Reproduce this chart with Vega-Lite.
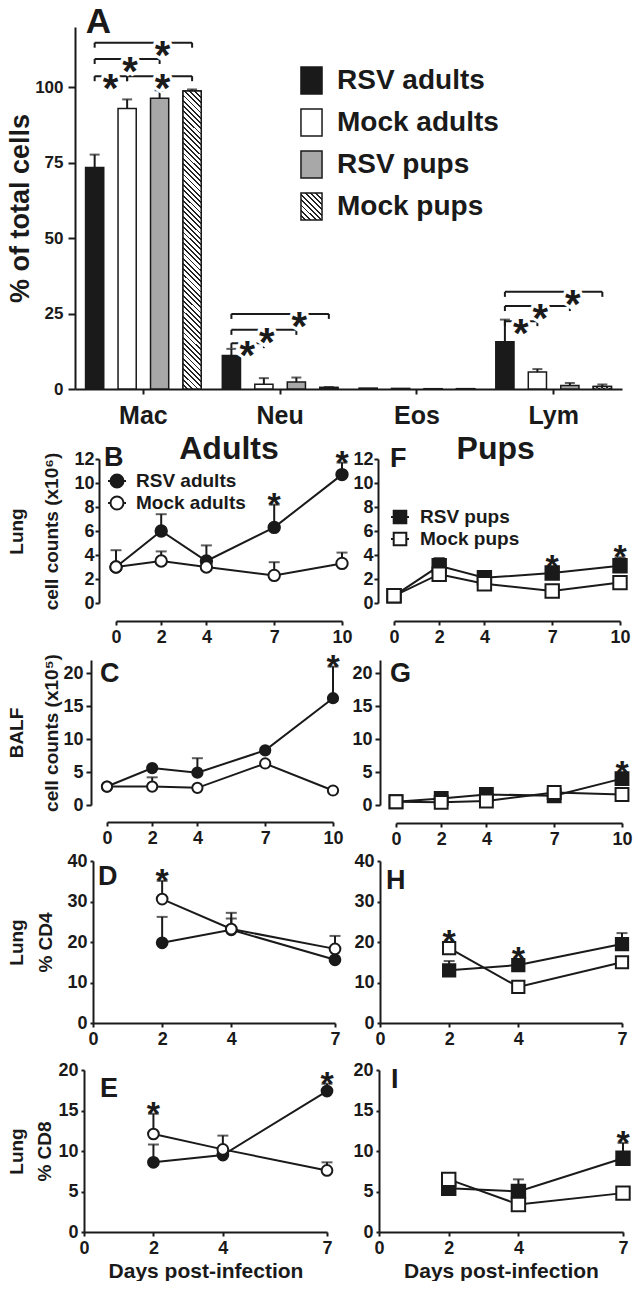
{
"$schema": "https://vega.github.io/schema/vega-lite/v6.json",
"padding": {"left": 6, "top": 5, "right": 0, "bottom": 0},
"background": "white",
"config": {
 "font": "Liberation Sans",
 "view": {"stroke": null},
 "axis": {"domainColor": "#1a1a1a", "domainWidth": 2, "tickColor": "#1a1a1a", "tickWidth": 2, "labelColor": "#1a1a1a", "labelFontWeight": "bold", "labelFont": "Liberation Sans", "titleFont": "Liberation Sans", "titleFontWeight": "bold", "titleColor": "#1a1a1a", "grid": false, "labelFlush": false, "labelOverlap": false, "labelFontSize": 18},
 "legend": {"padding": 0, "labelFont": "Liberation Sans", "labelFontWeight": "bold", "labelColor": "#1a1a1a", "labelLimit": 0},
 "text": {"font": "Liberation Sans", "fontWeight": "bold", "color": "#1a1a1a"}
},
"datasets": {
 "bars": [
  {"cell":"Mac","group":"RSV adults","value":73.4,"err":77.7},
  {"cell":"Mac","group":"Mock adults","value":93.0,"err":96.0},
  {"cell":"Mac","group":"RSV pups","value":96.4,"err":99.0},
  {"cell":"Mac","group":"Mock pups","value":98.8,"err":99.3},
  {"cell":"Neu","group":"RSV adults","value":11.1,"err":13.3},
  {"cell":"Neu","group":"Mock adults","value":1.6,"err":3.6},
  {"cell":"Neu","group":"RSV pups","value":2.3,"err":3.8},
  {"cell":"Neu","group":"Mock pups","value":0.5,"err":0.7},
  {"cell":"Eos","group":"RSV adults","value":0.3},
  {"cell":"Eos","group":"Mock adults","value":0.2},
  {"cell":"Eos","group":"RSV pups","value":0.1},
  {"cell":"Eos","group":"Mock pups","value":0.1},
  {"cell":"Lym","group":"RSV adults","value":15.7,"err":23.0},
  {"cell":"Lym","group":"Mock adults","value":5.6,"err":6.6},
  {"cell":"Lym","group":"RSV pups","value":1.2,"err":2.0},
  {"cell":"Lym","group":"Mock pups","value":0.8,"err":1.5}
 ],
 "brackets": [
  {"cell":"Mac","id":"m1","group":"RSV adults","level":114.8},{"cell":"Mac","id":"m1","group":"Mock pups","level":114.8},
  {"cell":"Mac","id":"m2","group":"RSV adults","level":109.4},{"cell":"Mac","id":"m2","group":"RSV pups","level":109.4},
  {"cell":"Mac","id":"m3","group":"RSV adults","level":103.7},{"cell":"Mac","id":"m3","group":"Mock adults","level":103.7},
  {"cell":"Mac","id":"m4","group":"Mock adults","level":103.7},{"cell":"Mac","id":"m4","group":"Mock pups","level":103.7},
  {"cell":"Neu","id":"n1","group":"RSV adults","level":24.9},{"cell":"Neu","id":"n1","group":"Mock pups","level":24.9},
  {"cell":"Neu","id":"n2","group":"RSV adults","level":19.6},{"cell":"Neu","id":"n2","group":"RSV pups","level":19.6},
  {"cell":"Neu","id":"n3","group":"RSV adults","level":15.2},{"cell":"Neu","id":"n3","group":"Mock adults","level":15.2},
  {"cell":"Lym","id":"l1","group":"RSV adults","level":32.2},{"cell":"Lym","id":"l1","group":"Mock pups","level":32.2},
  {"cell":"Lym","id":"l2","group":"RSV adults","level":27.5},{"cell":"Lym","id":"l2","group":"RSV pups","level":27.5},
  {"cell":"Lym","id":"l3","group":"RSV adults","level":22.5},{"cell":"Lym","id":"l3","group":"Mock adults","level":22.5}
 ],
 "stars": [
  {"cell":"Mac","group":"RSV pups","level":114.8,"kind":"on"},
  {"cell":"Mac","group":"Mock adults","level":109.4,"kind":"on"},
  {"cell":"Mac","group":"RSV adults","level":103.7,"kind":"mid"},
  {"cell":"Mac","group":"RSV pups","level":103.7,"kind":"on"},
  {"cell":"Neu","group":"RSV pups","level":24.9,"kind":"on"},
  {"cell":"Neu","group":"Mock adults","level":19.6,"kind":"on"},
  {"cell":"Neu","group":"RSV adults","level":15.2,"kind":"mid"},
  {"cell":"Lym","group":"RSV pups","level":32.2,"kind":"on"},
  {"cell":"Lym","group":"Mock adults","level":27.5,"kind":"on"},
  {"cell":"Lym","group":"RSV adults","level":22.5,"kind":"mid"}
 ],
 "series": [
  {"panel":"B","group":"RSV adults","day":0,"value":3.0,"err":4.4},
  {"panel":"B","group":"RSV adults","day":2,"value":6.0,"err":7.4},
  {"panel":"B","group":"RSV adults","day":4,"value":3.5,"err":4.8},
  {"panel":"B","group":"RSV adults","day":7,"value":6.3,"err":8.2,"sig":true},
  {"panel":"B","group":"RSV adults","day":10,"value":10.7,"err":11.7,"sig":true},
  {"panel":"B","group":"Mock adults","day":0,"value":3.0},
  {"panel":"B","group":"Mock adults","day":2,"value":3.5,"err":4.3},
  {"panel":"B","group":"Mock adults","day":4,"value":3.0},
  {"panel":"B","group":"Mock adults","day":7,"value":2.3,"err":3.4},
  {"panel":"B","group":"Mock adults","day":10,"value":3.3,"err":4.2},
  {"panel":"F","group":"RSV pups","day":0,"value":0.6},
  {"panel":"F","group":"RSV pups","day":2,"value":3.1,"err":3.75},
  {"panel":"F","group":"RSV pups","day":4,"value":2.1,"err":2.6},
  {"panel":"F","group":"RSV pups","day":7,"value":2.5,"sig":true},
  {"panel":"F","group":"RSV pups","day":10,"value":3.1,"err":3.8,"sig":true},
  {"panel":"F","group":"Mock pups","day":0,"value":0.6},
  {"panel":"F","group":"Mock pups","day":2,"value":2.4},
  {"panel":"F","group":"Mock pups","day":4,"value":1.6},
  {"panel":"F","group":"Mock pups","day":7,"value":1.0},
  {"panel":"F","group":"Mock pups","day":10,"value":1.7},
  {"panel":"C","group":"RSV adults","day":0,"value":2.8},
  {"panel":"C","group":"RSV adults","day":2,"value":5.6},
  {"panel":"C","group":"RSV adults","day":4,"value":4.9,"err":7.1},
  {"panel":"C","group":"RSV adults","day":7,"value":8.3},
  {"panel":"C","group":"RSV adults","day":10,"value":16.2,"err":21.0,"sig":true},
  {"panel":"C","group":"Mock adults","day":0,"value":2.8},
  {"panel":"C","group":"Mock adults","day":2,"value":2.8,"err":4.2},
  {"panel":"C","group":"Mock adults","day":4,"value":2.6},
  {"panel":"C","group":"Mock adults","day":7,"value":6.3},
  {"panel":"C","group":"Mock adults","day":10,"value":2.2},
  {"panel":"G","group":"RSV pups","day":0,"value":0.5},
  {"panel":"G","group":"RSV pups","day":2,"value":1.0},
  {"panel":"G","group":"RSV pups","day":4,"value":1.6},
  {"panel":"G","group":"RSV pups","day":7,"value":1.4},
  {"panel":"G","group":"RSV pups","day":10,"value":4.0,"sig":true},
  {"panel":"G","group":"Mock pups","day":0,"value":0.5},
  {"panel":"G","group":"Mock pups","day":2,"value":0.4},
  {"panel":"G","group":"Mock pups","day":4,"value":0.6},
  {"panel":"G","group":"Mock pups","day":7,"value":1.9},
  {"panel":"G","group":"Mock pups","day":10,"value":1.6},
  {"panel":"D","group":"RSV adults","day":2,"value":19.8,"err":26.2},
  {"panel":"D","group":"RSV adults","day":4,"value":23.0,"err":25.8},
  {"panel":"D","group":"RSV adults","day":7,"value":15.6},
  {"panel":"D","group":"Mock adults","day":2,"value":30.6,"err":35.1,"sig":true},
  {"panel":"D","group":"Mock adults","day":4,"value":23.2,"err":27.2},
  {"panel":"D","group":"Mock adults","day":7,"value":18.3,"err":21.5},
  {"panel":"H","group":"RSV pups","day":2,"value":13.0,"err":15.3},
  {"panel":"H","group":"RSV pups","day":4,"value":14.3,"sig":true},
  {"panel":"H","group":"RSV pups","day":7,"value":19.5,"err":22.2},
  {"panel":"H","group":"Mock pups","day":2,"value":18.5,"sig":true},
  {"panel":"H","group":"Mock pups","day":4,"value":8.9},
  {"panel":"H","group":"Mock pups","day":7,"value":15.0},
  {"panel":"E","group":"RSV adults","day":2,"value":8.6,"err":10.8},
  {"panel":"E","group":"RSV adults","day":4,"value":9.5},
  {"panel":"E","group":"RSV adults","day":7,"value":17.4,"err":18.3,"sig":true},
  {"panel":"E","group":"Mock adults","day":2,"value":12.1,"err":14.6,"sig":true},
  {"panel":"E","group":"Mock adults","day":4,"value":10.2,"err":11.9},
  {"panel":"E","group":"Mock adults","day":7,"value":7.6,"err":8.6},
  {"panel":"I","group":"RSV pups","day":2,"value":5.4},
  {"panel":"I","group":"RSV pups","day":4,"value":5.0,"err":6.5},
  {"panel":"I","group":"RSV pups","day":7,"value":9.1,"err":11.0,"sig":true},
  {"panel":"I","group":"Mock pups","day":2,"value":6.5},
  {"panel":"I","group":"Mock pups","day":4,"value":3.4},
  {"panel":"I","group":"Mock pups","day":7,"value":4.8}
 ]
},
"columns": 1, "align": "none", "spacing": 5,
"resolve": {"scale": {"fill": "independent"}, "legend": {"fill": "independent"}},
"concat": [
 {
  "width": 547, "height": 362,
  "encoding": {
   "x": {"field": "cell", "type": "nominal", "scale": {"domain": ["Mac","Neu","Eos","Lym"], "paddingInner": 0, "paddingOuter": 0}, "axis": {"title": null, "labelFontSize": 25, "labelAngle": 0, "tickSize": 5, "labelPadding": 9, "bandPosition": 0.5}},
   "xOffset": {"field": "group", "type": "nominal", "scale": {"domain": ["RSV adults","Mock adults","RSV pups","Mock pups"], "paddingInner": 0.44, "paddingOuter": 0.325}},
   "y": {"field": "value", "type": "quantitative", "scale": {"domain": [0,120], "nice": false}, "axis": {"values": [0,25,50,75,100], "title": "% of total cells", "titleFontSize": 27, "titlePadding": 0, "labelFontSize": 17, "tickSize": 7, "labelPadding": 5}}
  },
  "layer": [
   {"data": {"name": "bars"}, "mark": {"type": "bar", "stroke": "#1a1a1a", "strokeWidth": 1.5},
    "encoding": {"fill": {"field": "group", "type": "nominal",
     "scale": {"domain": ["RSV adults","Mock adults","RSV pups","Mock pups"], "range": ["#1a1a1a", "#ffffff", "#a8a8a8",
      {"expr": "{gradient: 'linear', x1: 0, y1: 1, x2: 0.862, y2: -0.108, stops: [{offset: 0, color: '#fff'}, {offset: 0.0722, color: '#fff'}, {offset: 0.0722, color: '#222'}, {offset: 0.1111, color: '#222'}, {offset: 0.1111, color: '#fff'}, {offset: 0.1833, color: '#fff'}, {offset: 0.1833, color: '#222'}, {offset: 0.2222, color: '#222'}, {offset: 0.2222, color: '#fff'}, {offset: 0.2944, color: '#fff'}, {offset: 0.2944, color: '#222'}, {offset: 0.3333, color: '#222'}, {offset: 0.3333, color: '#fff'}, {offset: 0.4056, color: '#fff'}, {offset: 0.4056, color: '#222'}, {offset: 0.4444, color: '#222'}, {offset: 0.4444, color: '#fff'}, {offset: 0.5167, color: '#fff'}, {offset: 0.5167, color: '#222'}, {offset: 0.5556, color: '#222'}, {offset: 0.5556, color: '#fff'}, {offset: 0.6278, color: '#fff'}, {offset: 0.6278, color: '#222'}, {offset: 0.6667, color: '#222'}, {offset: 0.6667, color: '#fff'}, {offset: 0.7389, color: '#fff'}, {offset: 0.7389, color: '#222'}, {offset: 0.7778, color: '#222'}, {offset: 0.7778, color: '#fff'}, {offset: 0.85, color: '#fff'}, {offset: 0.85, color: '#222'}, {offset: 0.8889, color: '#222'}, {offset: 0.8889, color: '#fff'}, {offset: 0.9611, color: '#fff'}, {offset: 0.9611, color: '#222'}, {offset: 1, color: '#222'}]}"}]},
     "legend": {"title": null, "orient": "none", "legendX": 222, "legendY": 39, "symbolType": "M-0.78,-1H0.78V1H-0.78Z", "symbolSize": 729, "symbolStrokeColor": "#1a1a1a", "symbolStrokeWidth": 1.5, "labelFontSize": 28, "rowPadding": 9, "labelOffset": 11,
      "encode": {"symbols": {"update": {"stroke": {"value": "#1a1a1a"}, "strokeWidth": {"value": 1.5}}}}}}}},
   {"data": {"name": "bars"}, "transform": [{"filter": "datum.group === 'Mock pups'"}],
    "mark": {"type": "bar", "stroke": "#1a1a1a", "strokeWidth": 1.5,
     "fill": {"gradient": "linear", "x1": 0, "y1": 1, "x2": 0.064, "y2": -0.056, "stops": [
      {"offset":0,"color":"#fff"},{"offset":0.0108,"color":"#fff"},{"offset":0.0108,"color":"#222"},{"offset":0.0167,"color":"#222"},
      {"offset":0.0167,"color":"#fff"},{"offset":0.0275,"color":"#fff"},{"offset":0.0275,"color":"#222"},{"offset":0.0333,"color":"#222"},
      {"offset":0.0333,"color":"#fff"},{"offset":0.0442,"color":"#fff"},{"offset":0.0442,"color":"#222"},{"offset":0.05,"color":"#222"},
      {"offset":0.05,"color":"#fff"},{"offset":0.0608,"color":"#fff"},{"offset":0.0608,"color":"#222"},{"offset":0.0667,"color":"#222"},
      {"offset":0.0667,"color":"#fff"},{"offset":0.0775,"color":"#fff"},{"offset":0.0775,"color":"#222"},{"offset":0.0833,"color":"#222"},
      {"offset":0.0833,"color":"#fff"},{"offset":0.0942,"color":"#fff"},{"offset":0.0942,"color":"#222"},{"offset":0.1,"color":"#222"},
      {"offset":0.1,"color":"#fff"},{"offset":0.1108,"color":"#fff"},{"offset":0.1108,"color":"#222"},{"offset":0.1167,"color":"#222"},
      {"offset":0.1167,"color":"#fff"},{"offset":0.1275,"color":"#fff"},{"offset":0.1275,"color":"#222"},{"offset":0.1333,"color":"#222"},
      {"offset":0.1333,"color":"#fff"},{"offset":0.1442,"color":"#fff"},{"offset":0.1442,"color":"#222"},{"offset":0.15,"color":"#222"},
      {"offset":0.15,"color":"#fff"},{"offset":0.1608,"color":"#fff"},{"offset":0.1608,"color":"#222"},{"offset":0.1667,"color":"#222"},
      {"offset":0.1667,"color":"#fff"},{"offset":0.1775,"color":"#fff"},{"offset":0.1775,"color":"#222"},{"offset":0.1833,"color":"#222"},
      {"offset":0.1833,"color":"#fff"},{"offset":0.1942,"color":"#fff"},{"offset":0.1942,"color":"#222"},{"offset":0.2,"color":"#222"},
      {"offset":0.2,"color":"#fff"},{"offset":0.2108,"color":"#fff"},{"offset":0.2108,"color":"#222"},{"offset":0.2167,"color":"#222"},
      {"offset":0.2167,"color":"#fff"},{"offset":0.2275,"color":"#fff"},{"offset":0.2275,"color":"#222"},{"offset":0.2333,"color":"#222"},
      {"offset":0.2333,"color":"#fff"},{"offset":0.2442,"color":"#fff"},{"offset":0.2442,"color":"#222"},{"offset":0.25,"color":"#222"},
      {"offset":0.25,"color":"#fff"},{"offset":0.2608,"color":"#fff"},{"offset":0.2608,"color":"#222"},{"offset":0.2667,"color":"#222"},
      {"offset":0.2667,"color":"#fff"},{"offset":0.2775,"color":"#fff"},{"offset":0.2775,"color":"#222"},{"offset":0.2833,"color":"#222"},
      {"offset":0.2833,"color":"#fff"},{"offset":0.2942,"color":"#fff"},{"offset":0.2942,"color":"#222"},{"offset":0.3,"color":"#222"},
      {"offset":0.3,"color":"#fff"},{"offset":0.3108,"color":"#fff"},{"offset":0.3108,"color":"#222"},{"offset":0.3167,"color":"#222"},
      {"offset":0.3167,"color":"#fff"},{"offset":0.3275,"color":"#fff"},{"offset":0.3275,"color":"#222"},{"offset":0.3333,"color":"#222"},
      {"offset":0.3333,"color":"#fff"},{"offset":0.3442,"color":"#fff"},{"offset":0.3442,"color":"#222"},{"offset":0.35,"color":"#222"},
      {"offset":0.35,"color":"#fff"},{"offset":0.3608,"color":"#fff"},{"offset":0.3608,"color":"#222"},{"offset":0.3667,"color":"#222"},
      {"offset":0.3667,"color":"#fff"},{"offset":0.3775,"color":"#fff"},{"offset":0.3775,"color":"#222"},{"offset":0.3833,"color":"#222"},
      {"offset":0.3833,"color":"#fff"},{"offset":0.3942,"color":"#fff"},{"offset":0.3942,"color":"#222"},{"offset":0.4,"color":"#222"},
      {"offset":0.4,"color":"#fff"},{"offset":0.4108,"color":"#fff"},{"offset":0.4108,"color":"#222"},{"offset":0.4167,"color":"#222"},
      {"offset":0.4167,"color":"#fff"},{"offset":0.4275,"color":"#fff"},{"offset":0.4275,"color":"#222"},{"offset":0.4333,"color":"#222"},
      {"offset":0.4333,"color":"#fff"},{"offset":0.4442,"color":"#fff"},{"offset":0.4442,"color":"#222"},{"offset":0.45,"color":"#222"},
      {"offset":0.45,"color":"#fff"},{"offset":0.4608,"color":"#fff"},{"offset":0.4608,"color":"#222"},{"offset":0.4667,"color":"#222"},
      {"offset":0.4667,"color":"#fff"},{"offset":0.4775,"color":"#fff"},{"offset":0.4775,"color":"#222"},{"offset":0.4833,"color":"#222"},
      {"offset":0.4833,"color":"#fff"},{"offset":0.4942,"color":"#fff"},{"offset":0.4942,"color":"#222"},{"offset":0.5,"color":"#222"},
      {"offset":0.5,"color":"#fff"},{"offset":0.5108,"color":"#fff"},{"offset":0.5108,"color":"#222"},{"offset":0.5167,"color":"#222"},
      {"offset":0.5167,"color":"#fff"},{"offset":0.5275,"color":"#fff"},{"offset":0.5275,"color":"#222"},{"offset":0.5333,"color":"#222"},
      {"offset":0.5333,"color":"#fff"},{"offset":0.5442,"color":"#fff"},{"offset":0.5442,"color":"#222"},{"offset":0.55,"color":"#222"},
      {"offset":0.55,"color":"#fff"},{"offset":0.5608,"color":"#fff"},{"offset":0.5608,"color":"#222"},{"offset":0.5667,"color":"#222"},
      {"offset":0.5667,"color":"#fff"},{"offset":0.5775,"color":"#fff"},{"offset":0.5775,"color":"#222"},{"offset":0.5833,"color":"#222"},
      {"offset":0.5833,"color":"#fff"},{"offset":0.5942,"color":"#fff"},{"offset":0.5942,"color":"#222"},{"offset":0.6,"color":"#222"},
      {"offset":0.6,"color":"#fff"},{"offset":0.6108,"color":"#fff"},{"offset":0.6108,"color":"#222"},{"offset":0.6167,"color":"#222"},
      {"offset":0.6167,"color":"#fff"},{"offset":0.6275,"color":"#fff"},{"offset":0.6275,"color":"#222"},{"offset":0.6333,"color":"#222"},
      {"offset":0.6333,"color":"#fff"},{"offset":0.6442,"color":"#fff"},{"offset":0.6442,"color":"#222"},{"offset":0.65,"color":"#222"},
      {"offset":0.65,"color":"#fff"},{"offset":0.6608,"color":"#fff"},{"offset":0.6608,"color":"#222"},{"offset":0.6667,"color":"#222"},
      {"offset":0.6667,"color":"#fff"},{"offset":0.6775,"color":"#fff"},{"offset":0.6775,"color":"#222"},{"offset":0.6833,"color":"#222"},
      {"offset":0.6833,"color":"#fff"},{"offset":0.6942,"color":"#fff"},{"offset":0.6942,"color":"#222"},{"offset":0.7,"color":"#222"},
      {"offset":0.7,"color":"#fff"},{"offset":0.7108,"color":"#fff"},{"offset":0.7108,"color":"#222"},{"offset":0.7167,"color":"#222"},
      {"offset":0.7167,"color":"#fff"},{"offset":0.7275,"color":"#fff"},{"offset":0.7275,"color":"#222"},{"offset":0.7333,"color":"#222"},
      {"offset":0.7333,"color":"#fff"},{"offset":0.7442,"color":"#fff"},{"offset":0.7442,"color":"#222"},{"offset":0.75,"color":"#222"},
      {"offset":0.75,"color":"#fff"},{"offset":0.7608,"color":"#fff"},{"offset":0.7608,"color":"#222"},{"offset":0.7667,"color":"#222"},
      {"offset":0.7667,"color":"#fff"},{"offset":0.7775,"color":"#fff"},{"offset":0.7775,"color":"#222"},{"offset":0.7833,"color":"#222"},
      {"offset":0.7833,"color":"#fff"},{"offset":0.7942,"color":"#fff"},{"offset":0.7942,"color":"#222"},{"offset":0.8,"color":"#222"},
      {"offset":0.8,"color":"#fff"},{"offset":0.8108,"color":"#fff"},{"offset":0.8108,"color":"#222"},{"offset":0.8167,"color":"#222"},
      {"offset":0.8167,"color":"#fff"},{"offset":0.8275,"color":"#fff"},{"offset":0.8275,"color":"#222"},{"offset":0.8333,"color":"#222"},
      {"offset":0.8333,"color":"#fff"},{"offset":0.8442,"color":"#fff"},{"offset":0.8442,"color":"#222"},{"offset":0.85,"color":"#222"},
      {"offset":0.85,"color":"#fff"},{"offset":0.8608,"color":"#fff"},{"offset":0.8608,"color":"#222"},{"offset":0.8667,"color":"#222"},
      {"offset":0.8667,"color":"#fff"},{"offset":0.8775,"color":"#fff"},{"offset":0.8775,"color":"#222"},{"offset":0.8833,"color":"#222"},
      {"offset":0.8833,"color":"#fff"},{"offset":0.8942,"color":"#fff"},{"offset":0.8942,"color":"#222"},{"offset":0.9,"color":"#222"},
      {"offset":0.9,"color":"#fff"},{"offset":0.9108,"color":"#fff"},{"offset":0.9108,"color":"#222"},{"offset":0.9167,"color":"#222"},
      {"offset":0.9167,"color":"#fff"},{"offset":0.9275,"color":"#fff"},{"offset":0.9275,"color":"#222"},{"offset":0.9333,"color":"#222"},
      {"offset":0.9333,"color":"#fff"},{"offset":0.9442,"color":"#fff"},{"offset":0.9442,"color":"#222"},{"offset":0.95,"color":"#222"},
      {"offset":0.95,"color":"#fff"},{"offset":0.9608,"color":"#fff"},{"offset":0.9608,"color":"#222"},{"offset":0.9667,"color":"#222"},
      {"offset":0.9667,"color":"#fff"},{"offset":0.9775,"color":"#fff"},{"offset":0.9775,"color":"#222"},{"offset":0.9833,"color":"#222"},
      {"offset":0.9833,"color":"#fff"},{"offset":0.9942,"color":"#fff"},{"offset":0.9942,"color":"#222"},{"offset":1,"color":"#222"}
     ]}}},
   {"data": {"name": "bars"}, "transform": [{"filter": "isValid(datum.err)"}], "mark": {"type": "rule", "strokeWidth": 2, "color": "#1a1a1a"}, "encoding": {"y2": {"field": "err"}}},
   {"data": {"name": "bars"}, "transform": [{"filter": "isValid(datum.err)"}], "mark": {"type": "tick", "orient": "horizontal", "size": 10, "thickness": 2, "color": "#1a1a1a"}, "encoding": {"y": {"field": "err", "type": "quantitative"}}},
   {"data": {"name": "brackets"}, "mark": {"type": "line", "strokeWidth": 2, "color": "#1a1a1a"}, "encoding": {"y": {"field": "level", "type": "quantitative"}, "detail": {"field": "id"}}},
   {"data": {"name": "brackets"}, "mark": {"type": "rule", "strokeWidth": 2, "color": "#1a1a1a", "y2Offset": 5}, "encoding": {"y": {"field": "level", "type": "quantitative"}, "y2": {"field": "level"}}},
   {"data": {"name": "stars"}, "transform": [{"filter": "datum.kind === 'on'"}], "mark": {"type": "text", "text": "*", "fontSize": 40, "baseline": "alphabetic", "dy": 26, "dx": 3, "fill": "white", "stroke": "white", "strokeWidth": 6}, "encoding": {"y": {"field": "level", "type": "quantitative"}}},
   {"data": {"name": "stars"}, "transform": [{"filter": "datum.kind === 'on'"}], "mark": {"type": "text", "text": "*", "fontSize": 40, "baseline": "alphabetic", "dy": 26, "dx": 3}, "encoding": {"y": {"field": "level", "type": "quantitative"}}},
   {"data": {"name": "stars"}, "transform": [{"filter": "datum.kind === 'mid'"}], "mark": {"type": "text", "text": "*", "fontSize": 40, "baseline": "alphabetic", "dy": 26, "dx": 16, "fill": "white", "stroke": "white", "strokeWidth": 6}, "encoding": {"y": {"field": "level", "type": "quantitative"}}},
   {"data": {"name": "stars"}, "transform": [{"filter": "datum.kind === 'mid'"}], "mark": {"type": "text", "text": "*", "fontSize": 40, "baseline": "alphabetic", "dy": 26, "dx": 16}, "encoding": {"y": {"field": "level", "type": "quantitative"}}},
   {"data": {"name": "bars"}, "transform": [{"filter": "datum.cell === 'Mac' && datum.group === 'RSV adults'"}], "mark": {"type": "text", "text": "A", "fontSize": 35, "align": "left", "baseline": "alphabetic", "dx": -9, "dy": 6}, "encoding": {"y": {"datum": 120, "type": "quantitative"}}}
  ]
 },
 {
  "columns": 1, "align": "none", "spacing": 4,
  "resolve": {"scale": {"fill": "independent"}, "legend": {"fill": "independent"}},
  "concat": [
   {
    "hconcat": [
     {
      "width": 267, "height": 144,
      "data": {"name": "series"},
      "transform": [{"filter": "datum.panel === 'B'"}],
      "encoding": {
       "x": {"field": "day", "type": "quantitative", "scale": {"domain": [0,10], "nice": false, "range": [41, 267]}, "axis": {"values": [0,2,4,7,10], "title": null, "offset": 18, "tickSize": 4, "labelPadding": 3}},
       "y": {"field": "value", "type": "quantitative", "scale": {"domain": [0,12], "nice": false}, "axis": {"values": [0,2,4,6,8,10,12], "offset": -24, "tickSize": 4, "labelPadding": 1, "title": ["Lung", "cell counts (x10⁶)"], "titleFontSize": 19, "titleLineHeight": 35, "titlePadding": 12}}
      },
      "layer": [
       {"transform": [{"filter": "isValid(datum.err)"}], "mark": {"type": "rule", "strokeWidth": 2, "color": "#1a1a1a"}, "encoding": {"y2": {"field": "err"}}},
       {"transform": [{"filter": "isValid(datum.err)"}], "mark": {"type": "tick", "orient": "horizontal", "size": 11, "thickness": 2, "color": "#1a1a1a"}, "encoding": {"y": {"field": "err", "type": "quantitative"}}},
       {"mark": {"type": "line", "strokeWidth": 2, "color": "#1a1a1a"}, "encoding": {"detail": {"field": "group"}}},
       {"mark": {"type": "point", "filled": true, "shape": "circle", "size": 130, "stroke": "#1a1a1a", "strokeWidth": 2, "opacity": 1},
        "encoding": {"fill": {"field": "group", "type": "nominal", "scale": {"domain": ["RSV adults","Mock adults"], "range": ["#1a1a1a","#ffffff"]},
         "legend": {"title": null, "orient": "none", "legendX": 32, "legendY": 12, "symbolType": "M-1,0H-0.72M0.72,0H1M0.72,0A0.72,0.72,0,1,1,-0.72,0A0.72,0.72,0,1,1,0.72,0Z", "symbolSize": 324, "symbolStrokeColor": "#1a1a1a", "symbolStrokeWidth": 2, "labelFontSize": 19, "labelOffset": 9, "rowPadding": 0,
          "encode": {"symbols": {"update": {"stroke": {"value": "#1a1a1a"}, "strokeWidth": {"value": 2}}}}}}}},
       {"transform": [{"filter": "datum.sig && isValid(datum.err)"}], "mark": {"type": "text", "text": "*", "fontSize": 34, "baseline": "alphabetic", "dy": 11}, "encoding": {"y": {"field": "err", "type": "quantitative"}}},
       {"transform": [{"filter": "datum.sig && !isValid(datum.err)"}], "mark": {"type": "text", "text": "*", "fontSize": 34, "baseline": "alphabetic", "dy": 5}},
       {"transform": [{"filter": "datum.day === 2 && indexof(datum.group, 'RSV') === 0"}], "mark": {"type": "text", "text": "B", "fontSize": 27, "align": "left", "baseline": "alphabetic", "dx": -12, "dy": 7}, "encoding": {"x": {"datum": 0, "type": "quantitative"}, "y": {"datum": 12, "type": "quantitative"}}},
       {"transform": [{"filter": "datum.day === 2 && indexof(datum.group, 'RSV') === 0"}], "mark": {"type": "text", "text": "Adults", "fontSize": 32, "align": "center", "baseline": "alphabetic"}, "encoding": {"x": {"datum": 5, "type": "quantitative"}, "y": {"datum": 12, "type": "quantitative"}}}
      ]
     },
     {
      "width": 226, "height": 144,
      "data": {"name": "series"},
      "transform": [{"filter": "datum.panel === 'F'"}],
      "encoding": {
       "x": {"field": "day", "type": "quantitative", "scale": {"domain": [0,10], "nice": false}, "axis": {"values": [0,2,4,7,10], "title": null, "offset": 18, "tickSize": 4, "labelPadding": 3}},
       "y": {"field": "value", "type": "quantitative", "scale": {"domain": [0,12], "nice": false}, "axis": {"values": [0,2,4,6,8,10,12], "offset": 16, "tickSize": 4, "labelPadding": 1, "title": null}}
      },
      "layer": [
       {"transform": [{"filter": "isValid(datum.err)"}], "mark": {"type": "rule", "strokeWidth": 2, "color": "#1a1a1a"}, "encoding": {"y2": {"field": "err"}}},
       {"transform": [{"filter": "isValid(datum.err)"}], "mark": {"type": "tick", "orient": "horizontal", "size": 11, "thickness": 2, "color": "#1a1a1a"}, "encoding": {"y": {"field": "err", "type": "quantitative"}}},
       {"mark": {"type": "line", "strokeWidth": 2, "color": "#1a1a1a"}, "encoding": {"detail": {"field": "group"}}},
       {"mark": {"type": "point", "filled": true, "shape": "square", "size": 180, "stroke": "#1a1a1a", "strokeWidth": 2, "opacity": 1},
        "encoding": {"fill": {"field": "group", "type": "nominal", "scale": {"domain": ["RSV pups","Mock pups"], "range": ["#1a1a1a","#ffffff"]},
         "legend": {"title": null, "orient": "none", "legendX": -4, "legendY": 48, "symbolType": "M-1,0H-0.7M0.7,0H1M-0.7,-0.7H0.7V0.7H-0.7Z", "symbolSize": 324, "symbolStrokeColor": "#1a1a1a", "symbolStrokeWidth": 2, "labelFontSize": 19, "labelOffset": 10, "rowPadding": 0,
          "encode": {"symbols": {"update": {"stroke": {"value": "#1a1a1a"}, "strokeWidth": {"value": 2}}}}}}}},
       {"transform": [{"filter": "datum.sig && isValid(datum.err)"}], "mark": {"type": "text", "text": "*", "fontSize": 34, "baseline": "alphabetic", "dy": 11}, "encoding": {"y": {"field": "err", "type": "quantitative"}}},
       {"transform": [{"filter": "datum.sig && !isValid(datum.err)"}], "mark": {"type": "text", "text": "*", "fontSize": 34, "baseline": "alphabetic", "dy": 5}},
       {"transform": [{"filter": "datum.day === 2 && indexof(datum.group, 'RSV') === 0"}], "mark": {"type": "text", "text": "F", "fontSize": 27, "align": "left", "baseline": "alphabetic", "dx": -4, "dy": 8}, "encoding": {"x": {"datum": 0, "type": "quantitative"}, "y": {"datum": 12, "type": "quantitative"}}},
       {"transform": [{"filter": "datum.day === 2 && indexof(datum.group, 'RSV') === 0"}], "mark": {"type": "text", "text": "Pups", "fontSize": 32, "align": "center", "baseline": "alphabetic"}, "encoding": {"x": {"datum": 4.5, "type": "quantitative"}, "y": {"datum": 12, "type": "quantitative"}}}
      ]
     }
    ],
    "spacing": 52, "bounds": "flush",
    "resolve": {"scale": {"fill": "independent"}, "legend": {"fill": "independent"}}
   },
   {
    "columns": 1, "align": "none", "spacing": 4,
    "resolve": {"scale": {"fill": "independent"}, "legend": {"fill": "independent"}},
    "concat": [
     {
      "hconcat": [
       {
        "width": 258, "height": 145,
        "data": {"name": "series"},
        "transform": [{"filter": "datum.panel === 'C'"}],
        "encoding": {
         "x": {"field": "day", "type": "quantitative", "scale": {"domain": [0,10], "nice": false, "range": [32, 258]}, "axis": {"values": [0,2,4,7,10], "title": null, "offset": 17, "tickSize": 4, "labelPadding": 3}},
         "y": {"field": "value", "type": "quantitative", "scale": {"domain": [0,22], "nice": false}, "axis": {"values": [0,5,10,15,20], "offset": -16, "tickSize": 5, "labelPadding": 3, "title": ["BALF", "cell counts (x10⁵)"], "titleFontSize": 19, "titleLineHeight": 35, "titlePadding": 1}}
        },
        "layer": [
         {"transform": [{"filter": "isValid(datum.err)"}], "mark": {"type": "rule", "strokeWidth": 2, "color": "#1a1a1a"}, "encoding": {"y2": {"field": "err"}}},
         {"transform": [{"filter": "isValid(datum.err)"}], "mark": {"type": "tick", "orient": "horizontal", "size": 11, "thickness": 2, "color": "#1a1a1a"}, "encoding": {"y": {"field": "err", "type": "quantitative"}}},
         {"mark": {"type": "line", "strokeWidth": 2, "color": "#1a1a1a"}, "encoding": {"detail": {"field": "group"}}},
         {"mark": {"type": "point", "filled": true, "shape": "circle", "size": 105, "stroke": "#1a1a1a", "strokeWidth": 2, "opacity": 1},
          "encoding": {"fill": {"field": "group", "type": "nominal", "scale": {"domain": ["RSV adults","Mock adults"], "range": ["#1a1a1a","#ffffff"]}, "legend": null}}},
         {"transform": [{"filter": "datum.sig && isValid(datum.err)"}], "mark": {"type": "text", "text": "*", "fontSize": 34, "baseline": "alphabetic", "dy": 11}, "encoding": {"y": {"field": "err", "type": "quantitative"}}},
         {"transform": [{"filter": "datum.sig && !isValid(datum.err)"}], "mark": {"type": "text", "text": "*", "fontSize": 34, "baseline": "alphabetic", "dy": 5}},
         {"transform": [{"filter": "datum.day === 2 && indexof(datum.group, 'RSV') === 0"}], "mark": {"type": "text", "text": "C", "fontSize": 27, "align": "left", "baseline": "alphabetic", "dx": -7, "dy": 22}, "encoding": {"x": {"datum": 0, "type": "quantitative"}, "y": {"datum": 22, "type": "quantitative"}}}
        ]
       },
       {
        "width": 226, "height": 145,
        "data": {"name": "series"},
        "transform": [{"filter": "datum.panel === 'G'"}],
        "encoding": {
         "x": {"field": "day", "type": "quantitative", "scale": {"domain": [0,10], "nice": false}, "axis": {"values": [0,2,4,7,10], "title": null, "offset": 18, "tickSize": 4, "labelPadding": 3}},
         "y": {"field": "value", "type": "quantitative", "scale": {"domain": [0,22], "nice": false}, "axis": {"values": [0,5,10,15,20], "offset": 16, "tickSize": 5, "labelPadding": 3, "title": null}}
        },
        "layer": [
         {"transform": [{"filter": "isValid(datum.err)"}], "mark": {"type": "rule", "strokeWidth": 2, "color": "#1a1a1a"}, "encoding": {"y2": {"field": "err"}}},
         {"transform": [{"filter": "isValid(datum.err)"}], "mark": {"type": "tick", "orient": "horizontal", "size": 11, "thickness": 2, "color": "#1a1a1a"}, "encoding": {"y": {"field": "err", "type": "quantitative"}}},
         {"mark": {"type": "line", "strokeWidth": 2, "color": "#1a1a1a"}, "encoding": {"detail": {"field": "group"}}},
         {"mark": {"type": "point", "filled": true, "shape": "square", "size": 165, "stroke": "#1a1a1a", "strokeWidth": 2, "opacity": 1},
          "encoding": {"fill": {"field": "group", "type": "nominal", "scale": {"domain": ["RSV pups","Mock pups"], "range": ["#1a1a1a","#ffffff"]}, "legend": null}}},
         {"transform": [{"filter": "datum.sig && isValid(datum.err)"}], "mark": {"type": "text", "text": "*", "fontSize": 34, "baseline": "alphabetic", "dy": 11}, "encoding": {"y": {"field": "err", "type": "quantitative"}}},
         {"transform": [{"filter": "datum.sig && !isValid(datum.err)"}], "mark": {"type": "text", "text": "*", "fontSize": 34, "baseline": "alphabetic", "dy": 5}},
         {"transform": [{"filter": "datum.day === 2 && indexof(datum.group, 'RSV') === 0"}], "mark": {"type": "text", "text": "G", "fontSize": 27, "align": "left", "baseline": "alphabetic", "dx": -6, "dy": 22}, "encoding": {"x": {"datum": 0, "type": "quantitative"}, "y": {"datum": 22, "type": "quantitative"}}}
        ]
       }
      ],
      "spacing": 63, "bounds": "flush",
      "resolve": {"scale": {"fill": "independent"}, "legend": {"fill": "independent"}}
     },
     {
      "columns": 1, "align": "none", "spacing": 13,
      "resolve": {"scale": {"fill": "independent"}, "legend": {"fill": "independent"}},
      "concat": [
       {
        "hconcat": [
         {
          "width": 260, "height": 162,
          "data": {"name": "series"},
          "transform": [{"filter": "datum.panel === 'D'"}],
          "encoding": {
           "x": {"field": "day", "type": "quantitative", "scale": {"domain": [0,7], "nice": false, "range": [18, 260]}, "axis": {"values": [0,2,4,7], "title": null, "tickSize": 4, "labelPadding": 3}},
           "y": {"field": "value", "type": "quantitative", "scale": {"domain": [0,40], "nice": false}, "axis": {"values": [0,10,20,30,40], "offset": -18, "tickSize": 3, "labelPadding": 3, "title": ["Lung", "% CD4"], "titleFontSize": 19, "titleLineHeight": 29, "titlePadding": 11}}
          },
          "layer": [
           {"transform": [{"filter": "isValid(datum.err)"}], "mark": {"type": "rule", "strokeWidth": 2, "color": "#1a1a1a"}, "encoding": {"y2": {"field": "err"}}},
           {"transform": [{"filter": "isValid(datum.err)"}], "mark": {"type": "tick", "orient": "horizontal", "size": 11, "thickness": 2, "color": "#1a1a1a"}, "encoding": {"y": {"field": "err", "type": "quantitative"}}},
           {"mark": {"type": "line", "strokeWidth": 2, "color": "#1a1a1a"}, "encoding": {"detail": {"field": "group"}}},
           {"mark": {"type": "point", "filled": true, "shape": "circle", "size": 115, "stroke": "#1a1a1a", "strokeWidth": 2, "opacity": 1},
            "encoding": {"fill": {"field": "group", "type": "nominal", "scale": {"domain": ["RSV adults","Mock adults"], "range": ["#1a1a1a","#ffffff"]}, "legend": null}}},
           {"transform": [{"filter": "datum.sig && isValid(datum.err)"}], "mark": {"type": "text", "text": "*", "fontSize": 34, "baseline": "alphabetic", "dy": 11}, "encoding": {"y": {"field": "err", "type": "quantitative"}}},
           {"transform": [{"filter": "datum.sig && !isValid(datum.err)"}], "mark": {"type": "text", "text": "*", "fontSize": 34, "baseline": "alphabetic", "dy": 5}},
           {"transform": [{"filter": "datum.day === 2 && indexof(datum.group, 'RSV') === 0"}], "mark": {"type": "text", "text": "D", "fontSize": 27, "align": "left", "baseline": "alphabetic", "dx": 5, "dy": 24}, "encoding": {"x": {"datum": 0, "type": "quantitative"}, "y": {"datum": 40, "type": "quantitative"}}}
          ]
         },
         {
          "width": 242, "height": 162,
          "data": {"name": "series"},
          "transform": [{"filter": "datum.panel === 'H'"}],
          "encoding": {
           "x": {"field": "day", "type": "quantitative", "scale": {"domain": [0,7], "nice": false}, "axis": {"values": [0,2,4,7], "title": null, "tickSize": 4, "labelPadding": 3}},
           "y": {"field": "value", "type": "quantitative", "scale": {"domain": [0,40], "nice": false}, "axis": {"values": [0,10,20,30,40], "tickSize": 3, "labelPadding": 3, "title": null}}
          },
          "layer": [
           {"transform": [{"filter": "isValid(datum.err)"}], "mark": {"type": "rule", "strokeWidth": 2, "color": "#1a1a1a"}, "encoding": {"y2": {"field": "err"}}},
           {"transform": [{"filter": "isValid(datum.err)"}], "mark": {"type": "tick", "orient": "horizontal", "size": 11, "thickness": 2, "color": "#1a1a1a"}, "encoding": {"y": {"field": "err", "type": "quantitative"}}},
           {"mark": {"type": "line", "strokeWidth": 2, "color": "#1a1a1a"}, "encoding": {"detail": {"field": "group"}}},
           {"mark": {"type": "point", "filled": true, "shape": "square", "size": 150, "stroke": "#1a1a1a", "strokeWidth": 2, "opacity": 1},
            "encoding": {"fill": {"field": "group", "type": "nominal", "scale": {"domain": ["RSV pups","Mock pups"], "range": ["#1a1a1a","#ffffff"]}, "legend": null}}},
           {"transform": [{"filter": "datum.sig && isValid(datum.err)"}], "mark": {"type": "text", "text": "*", "fontSize": 34, "baseline": "alphabetic", "dy": 11}, "encoding": {"y": {"field": "err", "type": "quantitative"}}},
           {"transform": [{"filter": "datum.sig && !isValid(datum.err)"}], "mark": {"type": "text", "text": "*", "fontSize": 34, "baseline": "alphabetic", "dy": 5}},
           {"transform": [{"filter": "datum.day === 2 && indexof(datum.group, 'RSV') === 0"}], "mark": {"type": "text", "text": "H", "fontSize": 27, "align": "left", "baseline": "alphabetic", "dx": 6, "dy": 28}, "encoding": {"x": {"datum": 0, "type": "quantitative"}, "y": {"datum": 40, "type": "quantitative"}}}
          ]
         }
        ],
        "spacing": 45, "bounds": "flush",
        "resolve": {"scale": {"fill": "independent"}, "legend": {"fill": "independent"}}
       },
       {
        "hconcat": [
         {
          "width": 252, "height": 162,
          "data": {"name": "series"},
          "transform": [{"filter": "datum.panel === 'E'"}],
          "encoding": {
           "x": {"field": "day", "type": "quantitative", "scale": {"domain": [0,7], "nice": false, "range": [9, 252]}, "axis": {"values": [0,2,4,7], "title": "Days post-infection", "titleFontSize": 21, "titlePadding": 3, "tickSize": 4, "labelPadding": 3}},
           "y": {"field": "value", "type": "quantitative", "scale": {"domain": [0,20], "nice": false}, "axis": {"values": [0,5,10,15,20], "offset": -9, "tickSize": 3, "labelPadding": 3, "title": ["Lung", "% CD8"], "titleFontSize": 19, "titleLineHeight": 28, "titlePadding": 3}}
          },
          "layer": [
           {"transform": [{"filter": "isValid(datum.err)"}], "mark": {"type": "rule", "strokeWidth": 2, "color": "#1a1a1a"}, "encoding": {"y2": {"field": "err"}}},
           {"transform": [{"filter": "isValid(datum.err)"}], "mark": {"type": "tick", "orient": "horizontal", "size": 11, "thickness": 2, "color": "#1a1a1a"}, "encoding": {"y": {"field": "err", "type": "quantitative"}}},
           {"mark": {"type": "line", "strokeWidth": 2, "color": "#1a1a1a"}, "encoding": {"detail": {"field": "group"}}},
           {"mark": {"type": "point", "filled": true, "shape": "circle", "size": 115, "stroke": "#1a1a1a", "strokeWidth": 2, "opacity": 1},
            "encoding": {"fill": {"field": "group", "type": "nominal", "scale": {"domain": ["RSV adults","Mock adults"], "range": ["#1a1a1a","#ffffff"]}, "legend": null}}},
           {"transform": [{"filter": "datum.sig && isValid(datum.err)"}], "mark": {"type": "text", "text": "*", "fontSize": 34, "baseline": "alphabetic", "dy": 11}, "encoding": {"y": {"field": "err", "type": "quantitative"}}},
           {"transform": [{"filter": "datum.sig && !isValid(datum.err)"}], "mark": {"type": "text", "text": "*", "fontSize": 34, "baseline": "alphabetic", "dy": 5}},
           {"transform": [{"filter": "datum.day === 2 && indexof(datum.group, 'RSV') === 0"}], "mark": {"type": "text", "text": "E", "fontSize": 27, "align": "left", "baseline": "alphabetic", "dx": 16, "dy": 27}, "encoding": {"x": {"datum": 0, "type": "quantitative"}, "y": {"datum": 20, "type": "quantitative"}}}
          ]
         },
         {
          "width": 244, "height": 162,
          "data": {"name": "series"},
          "transform": [{"filter": "datum.panel === 'I'"}],
          "encoding": {
           "x": {"field": "day", "type": "quantitative", "scale": {"domain": [0,7], "nice": false}, "axis": {"values": [0,2,4,7], "title": "Days post-infection", "titleFontSize": 21, "titlePadding": 3, "tickSize": 4, "labelPadding": 3}},
           "y": {"field": "value", "type": "quantitative", "scale": {"domain": [0,20], "nice": false}, "axis": {"values": [0,5,10,15,20], "tickSize": 3, "labelPadding": 3, "title": null}}
          },
          "layer": [
           {"transform": [{"filter": "isValid(datum.err)"}], "mark": {"type": "rule", "strokeWidth": 2, "color": "#1a1a1a"}, "encoding": {"y2": {"field": "err"}}},
           {"transform": [{"filter": "isValid(datum.err)"}], "mark": {"type": "tick", "orient": "horizontal", "size": 11, "thickness": 2, "color": "#1a1a1a"}, "encoding": {"y": {"field": "err", "type": "quantitative"}}},
           {"mark": {"type": "line", "strokeWidth": 2, "color": "#1a1a1a"}, "encoding": {"detail": {"field": "group"}}},
           {"mark": {"type": "point", "filled": true, "shape": "square", "size": 180, "stroke": "#1a1a1a", "strokeWidth": 2, "opacity": 1},
            "encoding": {"fill": {"field": "group", "type": "nominal", "scale": {"domain": ["RSV pups","Mock pups"], "range": ["#1a1a1a","#ffffff"]}, "legend": null}}},
           {"transform": [{"filter": "datum.sig && isValid(datum.err)"}], "mark": {"type": "text", "text": "*", "fontSize": 34, "baseline": "alphabetic", "dy": 11}, "encoding": {"y": {"field": "err", "type": "quantitative"}}},
           {"transform": [{"filter": "datum.sig && !isValid(datum.err)"}], "mark": {"type": "text", "text": "*", "fontSize": 34, "baseline": "alphabetic", "dy": 5}},
           {"transform": [{"filter": "datum.day === 2 && indexof(datum.group, 'RSV') === 0"}], "mark": {"type": "text", "text": "I", "fontSize": 27, "align": "left", "baseline": "alphabetic", "dx": 12, "dy": 18}, "encoding": {"x": {"datum": 0, "type": "quantitative"}, "y": {"datum": 20, "type": "quantitative"}}}
          ]
         }
        ],
        "spacing": 52, "bounds": "flush",
        "resolve": {"scale": {"fill": "independent"}, "legend": {"fill": "independent"}}
       }
      ]
     }
    ]
   }
  ]
 }
]
}
